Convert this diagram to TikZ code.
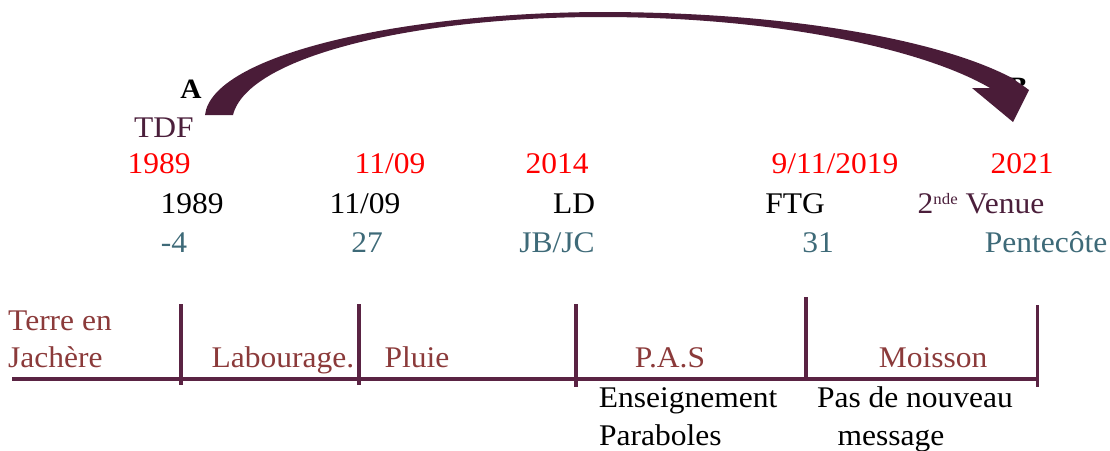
\documentclass[tikz,border=0pt]{standalone}
\usepackage{fontspec}
\setmainfont{Liberation Serif}[FakeStretch=1.05]
\definecolor{arrowc}{HTML}{4A1C38}
\definecolor{linec}{HTML}{5A2343}
\definecolor{redc}{HTML}{FF0000}
\definecolor{tealc}{HTML}{3E6A78}
\definecolor{purc}{HTML}{4B1F3B}
\definecolor{phasec}{HTML}{8B3A3A}
\begin{document}
\begin{tikzpicture}[x=1pt,y=-1pt,
  txt/.style={inner sep=0pt, anchor=base, font=\fontsize{30}{34}\selectfont},
  redt/.style={txt, text=redc},
  blkt/.style={txt, text=black},
  tealt/.style={txt, text=tealc},
  purt/.style={txt, text=purc},
  phaset/.style={txt, text=phasec},
  lettert/.style={inner sep=0pt, anchor=base, font=\fontsize{28}{30}\selectfont\bfseries},
  tick/.style={draw=linec, line width=3.5pt},
  axis/.style={draw=linec, line width=4pt}]
\useasboundingbox (0,0) rectangle (1110,450);

% letters A and B
\node[lettert] (A) at (191,98) {A};
\node[lettert] (B) at (1018,96) {B};

% curved arrow
\fill[arrowc] (205,115) .. controls (212,55) and (400,13) .. (600,12)
  .. controls (790,12) and (940,40) .. (1012,78)
  -- (1029,90) -- (1013,122) -- (972,88) -- (990,88)
  .. controls (925,50) and (780,17) .. (600,17)
  .. controls (420,17) and (248,55) .. (233,115) -- cycle;

\node[purt] (tdf) at (164,137) {TDF};

% red row
\node[redt] (r1) at (159,173) {1989};
\node[redt] (r2) at (390,173) {11/09};
\node[redt] (r3) at (557,173) {2014};
\node[redt] (r4) at (835,173) {9/11/2019};
\node[redt] (r5) at (1022,173) {2021};

% black row
\node[blkt] (b1) at (192,213) {1989};
\node[blkt] (b2) at (365,213) {11/09};
\node[blkt] (b3) at (574,213) {LD};
\node[blkt] (b4) at (795,213) {FTG};
\node[purt] (b5) at (981,213) {2\raisebox{9pt}{\fontsize{16}{18}\selectfont nde} Venue};

% teal row
\node[tealt] (t1) at (174,252) {-4};
\node[tealt] (t2) at (367,252) {27};
\node[tealt] (t3) at (557,252) {JB/JC};
\node[tealt] (t4) at (818,252) {31};
\node[tealt] (t5) at (1046,252) {Pentecôte};

% timeline
\coordinate (l0) at (12,379);
\coordinate (l1) at (1037.5,379);
\draw[axis] (l0) -- (l1);
\coordinate (k1a) at (181,304); \coordinate (k1b) at (181,385);
\coordinate (k2a) at (359,304); \coordinate (k2b) at (359,385);
\coordinate (k3a) at (576,304); \coordinate (k3b) at (576,387);
\coordinate (k4a) at (806,297); \coordinate (k4b) at (806,381);
\coordinate (k5a) at (1037.5,305); \coordinate (k5b) at (1037.5,387);
\draw[tick] (k1a) -- (k1b);
\draw[tick] (k2a) -- (k2b);
\draw[tick] (k3a) -- (k3b);
\draw[tick] (k4a) -- (k4b);
\draw[tick] (k5a) -- (k5b);

% phase labels
\node[phaset, anchor=base west] (p0a) at (8,330) {Terre en};
\node[phaset, anchor=base west] (p0b) at (8,367) {Jachère};
\node[phaset] (p1) at (283,367) {Labourage.};
\node[phaset] (p2) at (417,367) {Pluie};
\node[phaset] (p3) at (670,367) {P.A.S};
\node[phaset] (p4) at (933,367) {Moisson};

% below labels
\node[blkt] (e1) at (688,407) {Enseignement};
\node[blkt, anchor=base west] (e2) at (599,445) {Paraboles};
\node[blkt] (m1) at (915,407) {Pas de nouveau};
\node[blkt] (m2) at (891,445) {message};
\end{tikzpicture}
\end{document}
